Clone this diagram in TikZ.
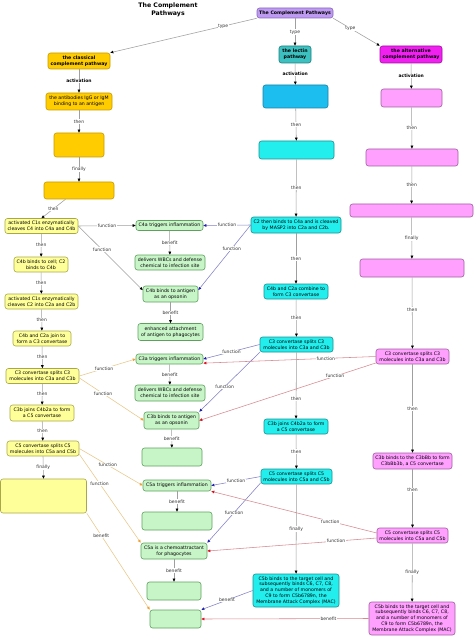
\documentclass[tikz,border=0pt]{standalone}
\usepackage{fontspec}
\setmainfont{DejaVu Sans}
\usetikzlibrary{arrows.meta}
\definecolor{goldF}{HTML}{FFCC00}\definecolor{goldD}{HTML}{C89B00}
\definecolor{yelF}{HTML}{FFFF99}\definecolor{yelD}{HTML}{A8A84A}
\definecolor{grnF}{HTML}{C8F5C8}\definecolor{grnD}{HTML}{5FA05F}
\definecolor{cyF}{HTML}{22EEEE}\definecolor{cyD}{HTML}{1E9090}
\definecolor{skyF}{HTML}{1CBEF0}\definecolor{skyD}{HTML}{1A80A0}
\definecolor{tealF}{HTML}{3CC0C0}\definecolor{tealD}{HTML}{1E7F7F}
\definecolor{purF}{HTML}{BE9BF0}\definecolor{purD}{HTML}{8A66C0}
\definecolor{magF}{HTML}{F020F0}\definecolor{magD}{HTML}{A010A0}
\definecolor{pinkF}{HTML}{FFA0FF}\definecolor{pinkD}{HTML}{A060A0}
\definecolor{lineO}{HTML}{E8C88A}\definecolor{arrO}{HTML}{F0A030}
\definecolor{lineB}{HTML}{8080C8}\definecolor{arrB}{HTML}{2020B0}
\definecolor{lineR}{HTML}{D88890}\definecolor{arrR}{HTML}{E01020}
\tikzset{
 bx/.style={draw, rounded corners=2.5pt, line width=0.6pt, align=center, inner sep=0pt,
   font=\fontsize{4.7}{5.9}\selectfont, text=black},
 bxb/.style={bx, font=\bfseries\fontsize{4.7}{5.9}\selectfont},
 sz/.style 2 args={minimum width=#1pt, minimum height=#2pt},
 gold/.style={fill=goldF, draw=goldD},
 yel/.style={fill=yelF, draw=yelD},
 grn/.style={fill=grnF, draw=grnD},
 cy/.style={fill=cyF, draw=cyD},
 sky/.style={fill=skyF, draw=skyD},
 teal/.style={fill=tealF, draw=tealD},
 pur/.style={fill=purF, draw=purD},
 mag/.style={fill=magF, draw=magD},
 pink/.style={fill=pinkF, draw=pinkD},
 ed/.style={draw=gray!75, line width=0.55pt, -{Triangle[length=3pt,width=2.6pt,color=black]}},
 eo/.style={draw=lineO, line width=0.55pt, -{Triangle[length=3pt,width=2.6pt,color=arrO]}},
 eb/.style={draw=lineB, line width=0.55pt, -{Triangle[length=3pt,width=2.6pt,color=arrB]}},
 er/.style={draw=lineR, line width=0.55pt, -{Triangle[length=3pt,width=2.6pt,color=arrR]}},
 lb/.style={fill=white, inner sep=0.5pt, font=\fontsize{4.5}{5}\selectfont, text=black!80},
 lbb/.style={fill=white, inner sep=0.5pt, font=\bfseries\fontsize{4.5}{5}\selectfont, text=black},
}
\begin{document}
\begin{tikzpicture}[x=1pt,y=-1pt]
\useasboundingbox[fill=white] (0,0) rectangle (474,636);
\node[font=\bfseries\fontsize{6.2}{8}\selectfont, align=center] (title) at (168,10) {The Complement\\Pathways};
% top
\node[bxb,pur,sz={76}{10}] (top) at (295,13) {The Complement Pathways};
\node[bxb,gold,sz={62}{16}] (cl) at (79,61) {the classical\\complement pathway};
\node[bxb,teal,sz={32}{17}] (le) at (295,54.5) {the lectin\\pathway};
\node[bxb,mag,sz={62}{17}] (al) at (411,54.5) {the alternative\\complement pathway};
% classical
\node[bx,gold,sz={66}{17}] (c2) at (79,101.5) {the antibodies IgG or IgM\\binding to an antigen};
\node[bx,gold,sz={50}{24}] (c3) at (79,145) {};
\node[bx,gold,sz={70}{17}] (c4) at (79,190.5) {};
\node[bx,yel,sz={73}{15}] (y1) at (41.5,226) {activated C1s enzymatically\\cleaves C4 into C4a and C4b};
\node[bx,yel,sz={54}{15}] (y2) at (41,264.5) {C4b binds to cell; C2\\binds to C4b};
\node[bx,yel,sz={73}{15}] (y3) at (41.5,301.5) {activated C1s enzymatically\\cleaves C2 into C2a and C2b};
\node[bx,yel,sz={58}{15}] (y4) at (42,338.5) {C4b and C2a join to\\form a C3 convertase};
\node[bx,yel,sz={73}{15}] (y5) at (42.5,376) {C3 convertase splits C3\\molecules into C3a and C3b};
\node[bx,yel,sz={64}{16}] (y6) at (42,413) {C3b joins C4b2a to form\\a C5 convertase};
\node[bx,yel,sz={72}{15}] (y7) at (43,448.5) {C5 convertase splits C5\\molecules into C5a and C5b};
\node[bx,yel,sz={86}{34}] (y8) at (43.5,496) {};
% green
\node[bx,grn,sz={67}{10}] (g1) at (169.5,225.5) {C4a triggers inflammation};
\node[bx,grn,sz={70}{15}] (g2) at (170,262.5) {delivers WBCs and defense\\chemical to infection site};
\node[bx,grn,sz={55}{16}] (g3) at (170.5,294) {C4b binds to antigen\\as an opsonin};
\node[bx,grn,sz={65}{17}] (g4) at (170.5,332) {enhanced attachment\\of antigen to phagocytes};
\node[bx,grn,sz={67}{10}] (g5) at (169.5,359) {C3a triggers inflammation};
\node[bx,grn,sz={70}{16}] (g6) at (170,393) {delivers WBCs and defense\\chemical to infection site};
\node[bx,grn,sz={55}{17}] (g7) at (171.5,420.5) {C3b binds to antigen\\as an opsonin};
\node[bx,grn,sz={60}{18}] (g8) at (172,457) {};
\node[bx,grn,sz={68}{11}] (g9) at (177,485.5) {C5a triggers inflammation};
\node[bx,grn,sz={70}{18}] (g10) at (177,521) {};
\node[bx,grn,sz={66}{16}] (g11) at (174,551) {C5a is a chemoattractant\\for phagocytes};
\node[bx,grn,sz={54}{18}] (g12) at (174,591) {};
\node[bx,grn,sz={51}{18}] (g13) at (175.5,619) {};
% lectin
\node[bx,sky,sz={65}{23}] (l1) at (295.5,96.5) {};
\node[bx,cy,sz={75}{18}] (l2) at (296.5,150) {};
\node[bx,cy,sz={90}{16}] (l3) at (296,225) {C2 then binds to C4a and is cleaved\\by MASP2 into C2a and C2b.};
\node[bx,cy,sz={64}{15}] (l4) at (296,291.5) {C4b and C2a combine to\\form C3 convertase};
\node[bx,cy,sz={73}{15}] (l5) at (296.5,344.5) {C3 convertase splits C3\\molecules into C3a and C3b};
\node[bx,cy,sz={64}{15}] (l6) at (296,426.5) {C3b joins C4b2a to form\\a C5 convertase};
\node[bx,cy,sz={71}{15}] (l7) at (296.5,476.5) {C5 convertase splits C5\\molecules into C5a and C5b};
\node[bx,cy,sz={86}{33}] (l8) at (296,590.5) {C5b binds to the target cell and\\subsequently binds C6, C7, C8,\\and a number of monomers of\\C9 to form C5b6789n, the\\Membrane Attack Complex (MAC)};
% alternative
\node[bx,pink,sz={61}{18}] (a1) at (411.5,98) {};
\node[bx,pink,sz={92}{17}] (a2) at (412,157.5) {};
\node[bx,pink,sz={123}{13}] (a3) at (411.5,210.5) {};
\node[bx,pink,sz={104}{18}] (a4) at (412,268) {};
\node[bx,pink,sz={73}{15}] (a5) at (412.5,356.5) {C3 convertase splits C3\\molecules into C3a and C3b};
\node[bx,pink,sz={79}{16}] (a6) at (412.5,461) {C3b binds to the C3bBb to form\\C3bBb3b, a C5 convertase};
\node[bx,pink,sz={71}{15}] (a7) at (412.5,535.5) {C5 convertase splits C5\\molecules into C5a and C5b};
\node[bx,pink,sz={86}{33}] (a8) at (412,618.5) {C5b binds to the target cell and\\subsequently binds C6, C7, C8,\\and a number of monomers of\\C9 to form C5b6789n, the\\Membrane Attack Complex (MAC)};
% top edges
\draw[ed] (top.south west) -- node[lb,pos=0.23]{type} (cl.north east);
\draw[ed] (top.south) -- node[lb]{type} (le.north);
\draw[ed] (top.south east) -- node[lb,pos=0.37]{type} (al.north west);
% classical verticals
\draw[ed] (cl) -- node[lbb]{activation} (c2);
\draw[ed] (c2) -- node[lb]{then} (c3);
\draw[ed] (c3) -- node[lb]{finally} (c4);
\draw[ed] (c4.213) -- node[lb]{then} (y1.north);
\draw[ed] (y1) -- node[lb]{then} (y2);
\draw[ed] (y2) -- node[lb]{then} (y3);
\draw[ed] (y3) -- node[lb]{then} (y4);
\draw[ed] (y4) -- node[lb]{then} (y5);
\draw[ed] (y5) -- node[lb]{then} (y6);
\draw[ed] (y6) -- node[lb]{then} (y7);
\draw[ed] (y7.south) -- node[lb]{finally} (y8.north);
% green verticals
\draw[ed] (g1) -- node[lb]{benefit} (g2);
\draw[ed] (g3) -- node[lb]{benefit} (g4);
\draw[ed] (g5) -- node[lb]{benefit} (g6);
\draw[ed] (g7) -- node[lb]{benefit} (g8);
\draw[ed] (g9) -- node[lb]{benefit} (g10);
\draw[ed] (g11) -- node[lb]{benefit} (g12);
% lectin verticals
\draw[ed] (le) -- node[lbb]{activation} (l1);
\draw[ed] (l1) -- node[lb]{then} (l2);
\draw[ed] (l2) -- node[lb]{then} (l3);
\draw[ed] (l3) -- node[lb]{then} (l4);
\draw[ed] (l4) -- node[lb]{then} (l5);
\draw[ed] (l5) -- node[lb,pos=0.7]{then} (l6);
\draw[ed] (l6) -- node[lb]{then} (l7);
\draw[ed] (l7) -- node[lb]{finally} (l8);
% alternative verticals
\draw[ed] (al) -- node[lbb]{activation} (a1);
\draw[ed] (a1) -- node[lb]{then} (a2);
\draw[ed] (a2) -- node[lb]{then} (a3);
\draw[ed] (a3) -- node[lb]{finally} (a4);
\draw[ed] (a4) -- node[lb,pos=0.45]{then} (a5);
\draw[ed] (a5) -- node[lb]{then} (a6);
\draw[ed] (a6) -- node[lb,pos=0.35]{then} (a7);
\draw[ed] (a7) -- node[lb]{finally} (a8);
% classical cross edges
\draw[ed] (y1.east) -- node[lb]{function} (g1.west);
\draw[ed] (y1.east) -- node[lb,pos=0.37]{function} (g3.172);
\draw[eo] (y5.east) -- node[lb,pos=0.44]{function} (g5.west);
\draw[eo] (y5.-3) -- node[lb,pos=0.37]{function} (g7.west);
\draw[eo] (y7.east) -- node[lb,pos=0.45]{function} (g9.west);
\draw[eo] (y7.-9) -- node[lb,pos=0.33]{function} (g11.north west);
\draw[eo] (y8.south east) -- node[lb,pos=0.23]{benefit} (g13.north west);
% lectin cross edges
\draw[eb] (l3.west) -- node[lb]{function} (g1.east);
\draw[eb] (l3.west) -- node[lb,pos=0.36]{function} (g3.8);
\draw[eb] (l5.west) -- node[lb]{function} (g5.east);
\draw[eb] (l5.south west) -- node[lb,pos=0.58]{function} (g7.north east);
\draw[eb] (l7.west) -- node[lb]{function} (g9.east);
\draw[eb] (l7.190) -- node[lb]{function} (g11.north east);
\draw[eb] (l8.west) -- node[lb]{benefit} (g13.north east);
% alternative cross edges
\draw[er] (a5.west) -- node[lb,pos=0.29]{function} (g5.-7);
\draw[er] (a5.190) -- node[lb,pos=0.23]{function} (g7.east);
\draw[er] (a7.176) -- node[lb,pos=0.28]{function} (g9.south east);
\draw[er] (a7.184) -- node[lb,pos=0.24]{function} (g11.east);
\draw[er] (a8.west) -- node[lb,pos=0.24]{benefit} (g13.east);
\end{tikzpicture}
\end{document}
